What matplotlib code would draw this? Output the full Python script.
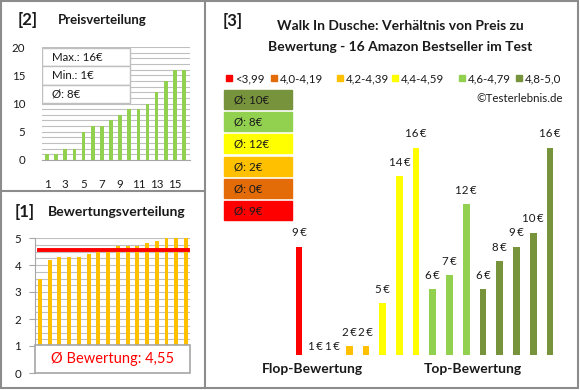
import numpy as np
import matplotlib
matplotlib.use('Agg')
from matplotlib import pyplot as plt
from matplotlib.patches import Rectangle

plt.rcParams['font.family'] = ['Lato', 'DejaVu Sans']

# data
ratings = [3.5, 4.2, 4.3, 4.3, 4.3, 4.4, 4.5, 4.5, 4.7, 4.7, 4.7, 4.8, 4.9, 5.0, 5.0, 5.0]
prices = [9, 1, 1, 2, 2, 5, 14, 16, 6, 7, 12, 6, 8, 9, 10, 16]  # in rating order
prices_sorted = sorted(prices)
avg_rating = 4.55

cat_labels = ['<3,99', '4,0-4,19', '4,2-4,39', '4,4-4,59', '4,6-4,79', '4,8-5,0']
cat_colors = ['#FF0000', '#E36C09', '#FFC000', '#FFFF00', '#92D050', '#77933C']
cat_lower = [0, 4.0, 4.2, 4.4, 4.6, 4.8]
cat_avg = ['9€', '0€', '2€', '12€', '8€', '10€']  # shown in the stacked boxes

W, H = 580, 390
grey = '#A6A6A6'
txt = '#1a1a1a'


def box(x0, y0, x1, y1):
    return [x0 / W, 1 - y1 / H, (x1 - x0) / W, (y1 - y0) / H]


fig = plt.figure(figsize=(W / 100, H / 100), dpi=100)

# overlay in pixel coords for frames and panel texts
ov = fig.add_axes([0, 0, 1, 1])
ov.set_xlim(0, W)
ov.set_ylim(H, 0)
ov.axis('off')
ov.add_patch(Rectangle((1, 1), 577, 387, fill=False, ec='#8C8C8C', lw=1.5))
ov.plot([205, 205], [1, 388], color='#8C8C8C', lw=1.5)
ov.plot([1, 205], [191, 191], color='#8C8C8C', lw=1.5)

ov.text(28, 20, '[2]', fontsize=12, fontweight='bold', ha='center', va='center', color=txt)
ov.text(58, 20, 'Preisverteilung', fontsize=9.5, fontweight='bold', ha='left', va='center', color=txt)
ov.text(25, 212, '[1]', fontsize=12, fontweight='bold', ha='center', va='center', color=txt)
ov.text(48, 212, 'Bewertungsverteilung', fontsize=10, fontweight='bold', ha='left', va='center', color=txt)
ov.text(233, 21, '[3]', fontsize=12, fontweight='bold', ha='center', va='center', color=txt)
ov.text(400, 26, 'Walk In Dusche: Verhältnis von Preis zu', fontsize=10, fontweight='bold',
        ha='center', va='center', color=txt)
ov.text(400, 47, 'Bewertung - 16 Amazon Bestseller im Test', fontsize=10, fontweight='bold',
        ha='center', va='center', color=txt)

# legend row
leg_x = [226, 271, 337, 392, 459, 516]
for lx, lab, c in zip(leg_x, cat_labels, cat_colors):
    ov.add_patch(Rectangle((lx, 75), 6, 6, color=c))
    ov.text(lx + 9, 79, lab, fontsize=8.3, ha='left', va='center', color=txt)
ov.text(563, 98, '©Testerlebnis.de', fontsize=8.3, ha='right', va='center', color=txt)

# average boxes, best category on top
box_tops = [90, 112, 134, 157, 179, 201]
for top, c, a in zip(box_tops, cat_colors[::-1], cat_avg[::-1]):
    ov.add_patch(Rectangle((224, top), 68, 19, color=c))
    ov.text(234, top + 10, 'Ø: ' + a, fontsize=8.3, ha='left', va='center', color=txt)

ov.text(312, 369, 'Flop-Bewertung', fontsize=10, fontweight='bold', ha='center', va='center', color=txt)
ov.text(473, 369, 'Top-Bewertung', fontsize=10, fontweight='bold', ha='center', va='center', color=txt)

# [2] price distribution
x = np.arange(1, 17)
ax1 = fig.add_axes(box(42, 47, 190, 160))
ax1.patch.set_visible(False)
ax1.bar(x, prices_sorted, width=0.4, color='#92D050', zorder=3)
ax1.set_xlim(0.45, 16.65)
ax1.set_ylim(0, 20)
ax1.set_yticks([0, 5, 10, 15, 20])
ax1.set_yticks(np.arange(0, 21, 1), minor=True)
ax1.set_xticks(np.arange(1, 16, 2))
ax1.grid(axis='y', which='both', color='#BFBFBF', lw=0.8, zorder=0)
ax1.tick_params(which='both', length=0, labelsize=8.3, colors=txt)
ax1.tick_params(axis='x', pad=14)
ax1.tick_params(axis='y', pad=12)
for s in ['top', 'right', 'left']:
    ax1.spines[s].set_visible(False)
ax1.spines['bottom'].set_color(grey)
# stats box
rows = ['Max.: %d€' % max(prices), 'Min.: %d€' % min(prices), 'Ø: %d€' % round(np.mean(prices))]
bx0, bx1 = 0.0, (130 - 42) / 148
rh = (103 - 48) / 113 / 3
for k, r in enumerate(rows):
    y0 = 1 - (48 - 47) / 113 - (k + 1) * rh
    ax1.add_patch(Rectangle((bx0, y0), bx1 - bx0, rh, transform=ax1.transAxes,
                            facecolor='white', edgecolor='#BFBFBF', lw=1, zorder=5))
    ax1.text(bx0 + 0.07, y0 + rh / 2, r, transform=ax1.transAxes, fontsize=8.3,
             ha='left', va='center', color=txt, zorder=6)

# [1] rating distribution
ax2 = fig.add_axes(box(35, 238, 190, 373))
ax2.patch.set_visible(False)
ax2.bar(x, ratings, width=0.4, color='#FFC000', zorder=3)
ax2.plot([x[0] - 0.1, x[-1] + 0.2], [avg_rating, avg_rating], color='#FF0000', lw=2.8, zorder=4)
ax2.set_xlim(0.49, 16.41)
ax2.set_ylim(0, 5)
ax2.set_yticks(np.arange(0, 6, 1))
ax2.set_yticks(np.arange(0, 5.01, 0.25), minor=True)
ax2.set_xticks([])
ax2.grid(axis='y', which='both', color='#BFBFBF', lw=0.8, zorder=0)
ax2.tick_params(axis='y', which='major', length=4, color=grey, labelsize=8.3, colors=txt, pad=6)
ax2.tick_params(axis='y', which='major', color=grey)
ax2.tick_params(axis='y', which='minor', length=0)
for s in ['top', 'right', 'bottom']:
    ax2.spines[s].set_visible(False)
ax2.spines['left'].set_color(grey)
tb = Rectangle((0, 0), 1, 1.05, transform=ax2.get_yaxis_transform(), facecolor='white',
               edgecolor=grey, lw=1.2, zorder=6, clip_on=False)
ax2.add_patch(tb)
ax2.text(0.5, 0.52, 'Ø Bewertung: ' + ('%.2f' % avg_rating).replace('.', ','),
         transform=ax2.get_yaxis_transform(), fontsize=10.5, ha='center', va='center',
         color='#FF0000', zorder=7)

# [3] price vs rating
def cat_color(r):
    c = cat_colors[0]
    for lo, col in zip(cat_lower, cat_colors):
        if r >= lo:
            c = col
    return c

ax3 = fig.add_axes(box(224, 60, 566, 355))
ax3.patch.set_visible(False)
idx = np.arange(len(prices))
ax3.bar(idx, prices, width=0.4, color=[cat_color(r) for r in ratings])
ax3.set_xlim(-4.48, 15.96)
ymin = 1.36
ax3.set_ylim(ymin, 22.2)
ax3.axis('off')
for i, p in zip(idx, prices):
    off = 10 if p > ymin else 6
    ax3.annotate('%d\u2009€' % p, (i, max(p, ymin)), xytext=(0, off), textcoords='offset points',
                 ha='center', va='center', fontsize=8.3, color=txt, annotation_clip=False)

fig.savefig('out.png', dpi=100)
